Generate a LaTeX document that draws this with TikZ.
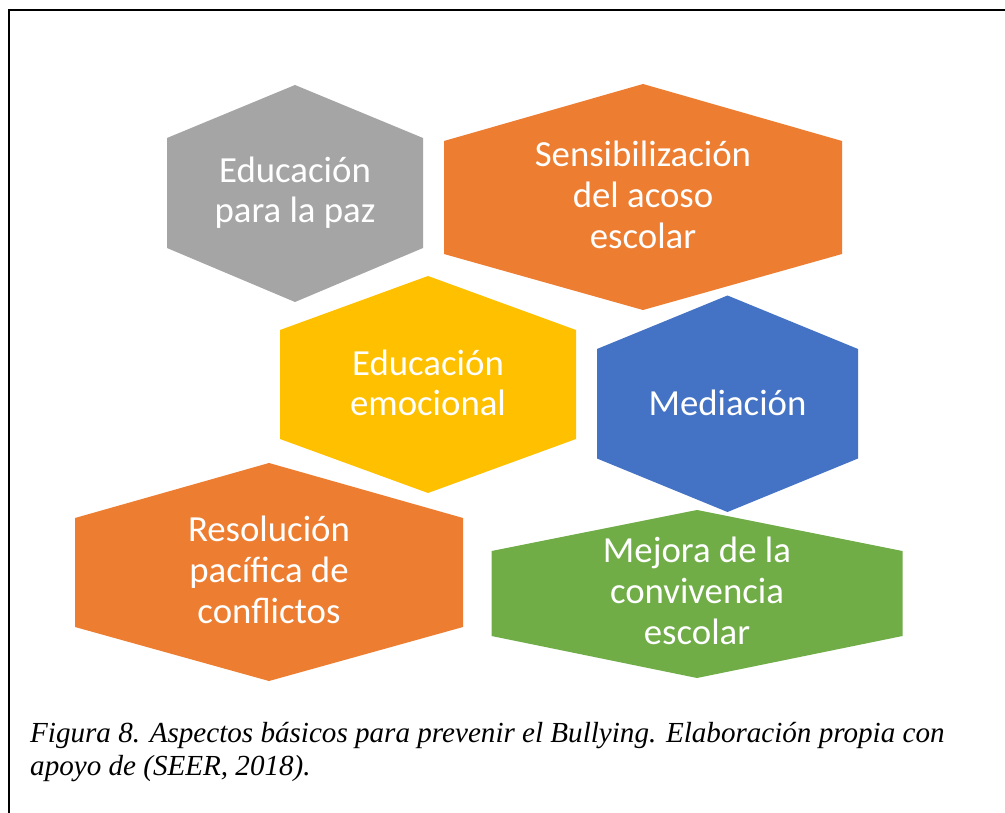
\documentclass[tikz,border=0pt]{standalone}
\usepackage{fontspec}
\setmainfont{Liberation Serif}
\newfontfamily\calib{Carlito}
\definecolor{hexgray}{HTML}{A5A5A5}
\definecolor{hexorange}{HTML}{ED7D31}
\definecolor{hexyellow}{HTML}{FFC000}
\definecolor{hexblue}{HTML}{4472C4}
\definecolor{hexgreen}{HTML}{70AD47}
% centred lines, first baseline is the box baseline
\newcommand\cenlines[2]{\vtop{\baselineskip=#1\lineskip=0pt\lineskiplimit=-100pt\halign{\hfil##\hfil\cr#2\crcr}}}
\newcommand\leftlines[2]{\vtop{\baselineskip=#1\lineskip=0pt\lineskiplimit=-100pt\halign{##\hfil\cr#2\crcr}}}
% hexagon: colour, cx, half width, top, upper side, lower side, bottom
\newcommand\hexa[7]{\fill[#1] (#2,#4) -- (#2+#3,#5) -- (#2+#3,#6) -- (#2,#7) -- (#2-#3,#6) -- (#2-#3,#5) -- cycle;}
\tikzset{
  hextext/.style={anchor=base, inner sep=0pt, text=white, font=\calib\fontsize{36.8}{40}\selectfont},
  captext/.style={anchor=base west, inner sep=0pt, font=\itshape\fontsize{29.1}{33}\selectfont},
  frameline/.style={line width=1.8pt, black}
}
\begin{document}
\begin{tikzpicture}[x=1pt,y=-1pt]
\useasboundingbox (0,0) rectangle (1005,813);
\fill[white] (0,0) rectangle (1005,813);
\draw[frameline] (9,813) -- (9,10) -- (1005,10);
% hexagons
\hexa{hexgray}{295}{128}{85}{138}{248}{302}
\hexa{hexorange}{643}{199}{84}{141}{254}{310}
\hexa{hexyellow}{428}{148}{276}{330}{439}{493}
\hexa{hexblue}{727.5}{130.5}{295.5}{349}{458.5}{512}
\hexa{hexorange}{269}{194}{463}{518}{627}{681}
\hexa{hexgreen}{697}{205.5}{510}{551}{636}{678}
% texts
\node[hextext] (paz) at (295,182.7) {\cenlines{40pt}{Educación\cr para la paz}};
\node[hextext] (sens) at (643,166.7) {\cenlines{40.8pt}{Sensibilización\cr del acoso\cr escolar}};
\node[hextext] (emoc) at (428,375) {\cenlines{40.7pt}{Educación\cr emocional}};
\node[hextext] (medi) at (727.5,415) {Mediación};
\node[hextext] (reso) at (269,541.7) {\cenlines{40.8pt}{Resolución\cr pacífica de\cr conflictos}};
\node[hextext] (mejo) at (697,562.7) {\cenlines{40.7pt}{Mejora de la\cr convivencia\cr escolar}};
\node[captext] (cap) at (30,742) {\leftlines{33pt}{Figura 8. Aspectos básicos para prevenir el Bullying. Elaboración propia con\cr apoyo de (SEER, 2018).}};
\end{tikzpicture}
\end{document}
